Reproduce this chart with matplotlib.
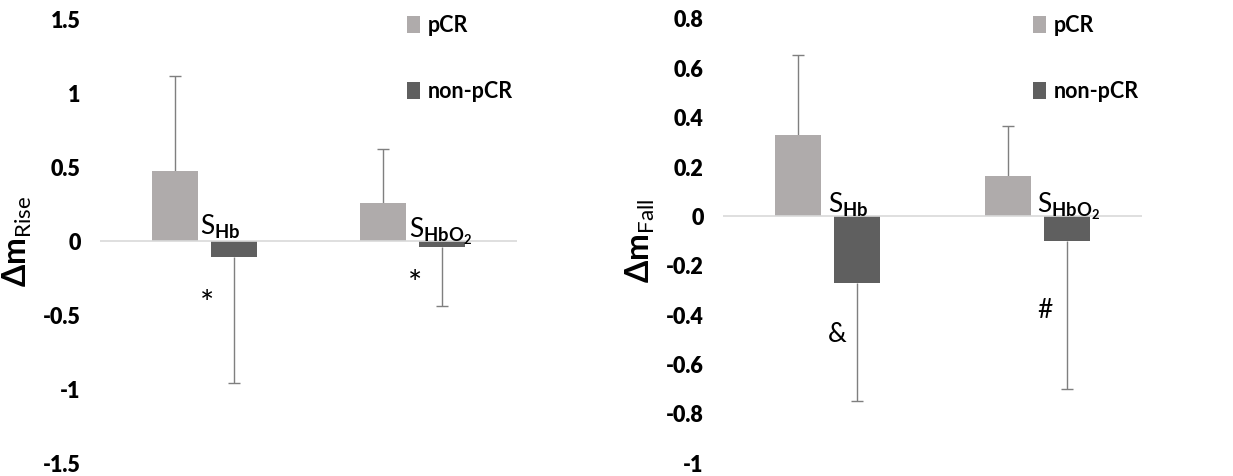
import matplotlib
matplotlib.use("Agg")
import matplotlib.pyplot as plt
from matplotlib.patches import Patch

plt.rcParams['font.family'] = ['Lato', 'DejaVu Sans']
plt.rcParams['font.weight'] = 'heavy'
plt.rcParams['mathtext.fontset'] = 'custom'
plt.rcParams['mathtext.rm'] = 'Lato:weight=normal'
plt.rcParams['mathtext.bf'] = 'Lato:weight=bold'
plt.rcParams['mathtext.it'] = 'Lato:italic'
plt.rcParams['ytick.labelsize'] = 15.5

# Data
categories = ['SHb', 'SHbO2']
groups = ['pCR', 'non-pCR']

rise_pcr = [0.47, 0.26]
rise_pcr_err = [0.645, 0.365]
rise_non = [-0.11, -0.04]
rise_non_err = [0.85, 0.40]
rise_ticks = [-1.5, -1, -0.5, 0, 0.5, 1, 1.5]
rise_marks = ['*', '*']

fall_pcr = [0.33, 0.163]
fall_pcr_err = [0.325, 0.202]
fall_non = [-0.27, -0.10]
fall_non_err = [0.48, 0.60]
fall_ticks = [-1, -0.8, -0.6, -0.4, -0.2, 0, 0.2, 0.4, 0.6, 0.8]
fall_marks = ['&', '#']

cat_labels = [r'$\mathrm{S}_{\mathbf{Hb}}$', r'$\mathrm{S}_{\mathbf{HbO}_{\mathbf{2}}}$']

PCR_COLOR = '#afabab'
NON_COLOR = '#5f5f5f'
ERR_COLOR = '#7f7f7f'
ZERO_COLOR = '#d9d9d9'

W, H = 1233, 476
fig = plt.figure(figsize=(W / 100, H / 100), dpi=100)


def px_axes(x0, x1, y_top, y_bot):
    return fig.add_axes([x0 / W, (H - y_bot) / H, (x1 - x0) / W, (y_bot - y_top) / H])


def one_sided_err(ax, x, y, err, upward):
    zeros = [0] * len(y)
    yerr = [zeros, err] if upward else [err, zeros]
    _, caps, _ = ax.errorbar(x, y, yerr=yerr, fmt='none', ecolor=ERR_COLOR,
                             elinewidth=1.0, capsize=4, capthick=1.0, zorder=1)
    # hide the cap that sits on the bar end
    caps[0 if upward else 1].set_visible(False)


def draw_panel(ax, pcr, pcr_err, non, non_err, ticks, ylabel, marks,
               mark_pos, label_pos, legend_anchor):
    xs = range(len(categories))
    off, bw = 0.1415, 0.22
    xp = [x - off for x in xs]
    xn = [x + off for x in xs]
    ax.bar(xp, pcr, width=bw, color=PCR_COLOR, zorder=2)
    ax.bar(xn, non, width=bw, color=NON_COLOR, zorder=2)
    one_sided_err(ax, xp, pcr, pcr_err, True)
    one_sided_err(ax, xn, non, non_err, False)
    ax.axhline(0, color=ZERO_COLOR, lw=1.2, zorder=3)

    ax.set_xlim(-0.5, len(categories) - 0.5)
    ax.set_ylim(ticks[0], ticks[-1])
    ax.set_yticks(ticks, [f'{t:g}' for t in ticks])
    ax.tick_params(axis='y', length=0, pad=14)
    ax.set_xticks([])
    for s in ax.spines.values():
        s.set_visible(False)
    ax.set_ylabel(ylabel, fontsize=23, labelpad=6)

    for lab, (lx, ly) in zip(cat_labels, label_pos):
        ax.text(lx, ly, lab, fontsize=19, ha='left', va='bottom', zorder=4)
    for m, (mx, my) in zip(marks, mark_pos):
        ax.text(mx, my, m, fontsize=24 if m == '*' else 19, fontweight='normal',
                ha='center', va='center')

    handles = [Patch(facecolor=PCR_COLOR, edgecolor='none'),
               Patch(facecolor=NON_COLOR, edgecolor='none')]
    fig.legend(handles, groups, loc='upper left', bbox_to_anchor=legend_anchor,
               frameon=False, borderpad=0, borderaxespad=0, handlelength=0.6,
               handleheight=0.8, handletextpad=0.35, labelspacing=2.1,
               prop={'family': 'Lato', 'weight': 'bold', 'size': 15.5})


ax1 = px_axes(100, 517, 19, 463)
draw_panel(ax1, rise_pcr, rise_pcr_err, rise_non, rise_non_err, rise_ticks,
           r'$\mathbf{\Delta m}_{\mathrm{Rise}}$', rise_marks,
           [(0.013, -0.43), (1.011, -0.30)],
           [(-0.02, 0.0), (0.98, -0.04)],
           (407 / W, (H - 15) / H))

ax2 = px_axes(723, 1142, 19, 463)
draw_panel(ax2, fall_pcr, fall_pcr_err, fall_non, fall_non_err, fall_ticks,
           r'$\mathbf{\Delta m}_{\mathrm{Fall}}$', fall_marks,
           [(0.044, -0.48), (1.037, -0.38)],
           [(0.0, -0.01), (1.0, -0.025)],
           (1033 / W, (H - 15) / H))

fig.savefig('out.png', dpi=100)
